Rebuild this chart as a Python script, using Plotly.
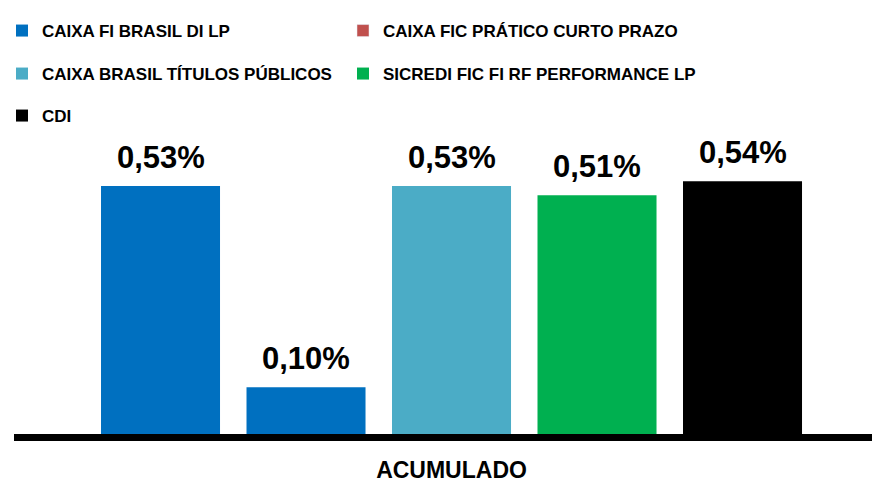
import plotly.graph_objects as go

category_label = "ACUMULADO"
series_names = [
    "CAIXA FI BRASIL DI LP",
    "CAIXA FIC PRÁTICO CURTO PRAZO",
    "CAIXA BRASIL TÍTULOS PÚBLICOS",
    "SICREDI FIC FI RF PERFORMANCE LP",
    "CDI",
]
series_values = [0.53, 0.10, 0.53, 0.51, 0.54]
bar_colors = ["#0070C0", "#0070C0", "#4BACC6", "#00B050", "#000000"]
legend_colors = ["#0070C0", "#C0504D", "#4BACC6", "#00B050", "#000000"]
legend_ids = ["legend", "legend2", "legend3", "legend4", "legend5"]

FONT = "Liberation Sans, Arial, sans-serif"
positions = list(range(len(series_values)))

fig = go.Figure()
for i, (name, val) in enumerate(zip(series_names, series_values)):
    same = bar_colors[i] == legend_colors[i]
    fig.add_trace(go.Bar(
        x=[positions[i]], y=[val], name=name, width=0.818,
        marker=dict(color=bar_colors[i], line=dict(width=0)),
        showlegend=same, legend=legend_ids[i],
        hoverinfo="skip",
    ))
    if not same:
        fig.add_trace(go.Bar(
            x=[positions[i]], y=[None], name=name,
            marker=dict(color=legend_colors[i]),
            showlegend=True, legend=legend_ids[i],
            hoverinfo="skip",
        ))
    fig.add_annotation(
        x=positions[i], y=val, xref="x", yref="y",
        text=f"{val:.2f}".replace(".", ",") + "%",
        showarrow=False, yanchor="bottom", yshift=9,
        font=dict(family=FONT, size=31, color="black", weight="bold"),
    )

leg_common = dict(
    orientation="h", xanchor="left", yanchor="middle",
    xref="container", yref="container",
    font=dict(family=FONT, size=17, color="black", weight="bold"),
    bgcolor="rgba(0,0,0,0)",
    itemclick=False, itemdoubleclick=False,
)
col_x = [2 / 872, 343 / 872]
row_y = [1 - 31 / 482, 1 - 74 / 482, 1 - 116 / 482]
legend_layout = {
    "legend": dict(x=col_x[0], y=row_y[0], **leg_common),
    "legend2": dict(x=col_x[1], y=row_y[0], **leg_common),
    "legend3": dict(x=col_x[0], y=row_y[1], **leg_common),
    "legend4": dict(x=col_x[1], y=row_y[1], **leg_common),
    "legend5": dict(x=col_x[0], y=row_y[2], **leg_common),
}

fig.update_layout(
    width=872, height=482,
    margin=dict(l=14, r=0, t=140, b=48, autoexpand=False),
    paper_bgcolor="white", plot_bgcolor="white",
    barmode="overlay",
    showlegend=True,
    **legend_layout,
    xaxis=dict(
        range=[-1.007, 4.89], showline=True, linecolor="black", linewidth=7,
        showgrid=False, zeroline=False, ticks="", automargin=False,
        tickmode="array", tickvals=[sum(positions) / len(positions)],
        ticktext=[category_label], ticklabelstandoff=9,
        tickfont=dict(family=FONT, size=23, color="black", weight="bold"),
    ),
    yaxis=dict(range=[0, 0.628], visible=False, showgrid=False, zeroline=False,
               automargin=False),
)

fig.write_html(
    "out.html",
    config={"displayModeBar": False},
    post_script="document.body.style.margin='0';document.body.style.padding='0';",
)
